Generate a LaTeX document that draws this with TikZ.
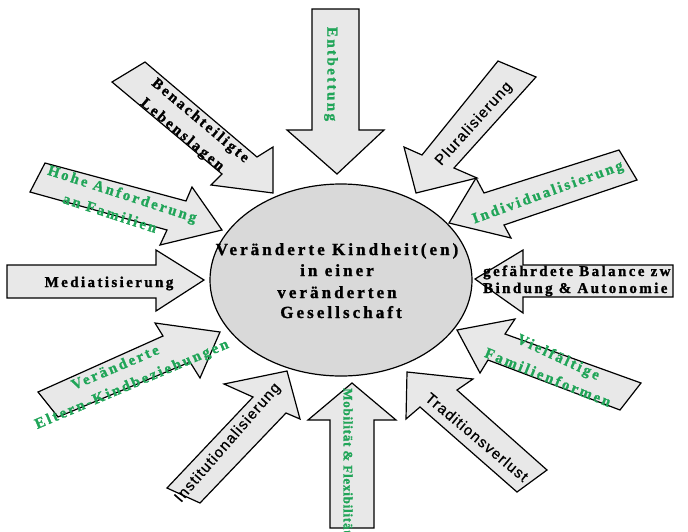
\documentclass[tikz,border=0pt]{standalone}
\usepackage{fontspec}
\setmainfont{Liberation Serif}
\newfontfamily\serifsp[LetterSpace=16,FakeBold=1.3]{Liberation Serif Bold}
\newfontfamily\serifbig[LetterSpace=18,FakeBold=1.3]{Liberation Serif Bold}
\newfontfamily\serifnarrow[LetterSpace=6,FakeBold=1.3]{Liberation Serif Bold}
\newfontfamily\sanssp[LetterSpace=8,FakeBold=0.7]{Liberation Sans}
\usetikzlibrary{shapes.geometric}
\definecolor{agray}{RGB}{232,232,232}
\definecolor{egray}{RGB}{217,217,217}
\definecolor{tgreen}{RGB}{32,165,88}
\tikzset{
  blk/.style={draw=black, line width=1.2pt, fill=agray, line join=miter},
  lab/.style={font=\serifsp\fontsize{15}{17}\selectfont, inner sep=0pt},
  glab/.style={lab, text=tgreen},
  slab/.style={font=\sanssp\fontsize{15}{17}\selectfont, inner sep=0pt},
  elab/.style={font=\serifbig\fontsize{17}{19}\selectfont, inner sep=0pt, anchor=base}
}
\begin{document}
\begin{tikzpicture}[x=1pt,y=-1pt]
\useasboundingbox (0,0) rectangle (688,531);
\clip (0,0) rectangle (688,531);
\fill[white] (0,0) rectangle (688,531);
% centre
\node[ellipse, draw, fill=egray, line width=1.2pt, minimum width=262pt, minimum height=192pt, inner sep=0pt] (core) at (341,280) {};
% arrows
\draw[blk] (312,9) -- (359,9) -- (359,130) -- (384,130) -- (337,174) -- (287,130) -- (312,130) -- cycle;
\draw[blk] (112,82) -- (145,62) -- (257,157) -- (273,147) -- (273,193) -- (211,185) -- (222,174) -- cycle;
\draw[blk] (30,192) -- (45,163) -- (186,201) -- (192,187) -- (222,230) -- (160,245) -- (167,230) -- cycle;
\draw[blk] (7,265) -- (156,265) -- (156,250) -- (204,280) -- (156,311) -- (156,298) -- (7,298) -- cycle;
\draw[blk] (38,392) -- (163,336) -- (155,323) -- (220,332) -- (200,378) -- (190,362) -- (58,417) -- cycle;
\draw[blk] (167,488) -- (253,397) -- (224,384) -- (287,371) -- (300,419) -- (286,413) -- (200,503) -- cycle;
\draw[blk] (330,528) -- (330,420) -- (308,420) -- (352,383) -- (396,420) -- (374,420) -- (374,528) -- cycle;
\draw[blk] (407,372) -- (473,379) -- (457,390) -- (547,470) -- (517,492) -- (420,407) -- (406,419) -- cycle;
\draw[blk] (457,330) -- (515,319) -- (505,334) -- (641,383) -- (620,410) -- (488,360) -- (480,373) -- cycle;
\draw[blk] (475,279) -- (523,250) -- (523,265) -- (673,265) -- (673,297) -- (523,297) -- (523,313) -- cycle;
\draw[blk] (449,223) -- (476,178) -- (484,193) -- (619,150) -- (637,180) -- (504,225) -- (511,238) -- cycle;
\draw[blk] (498,61) -- (536,77) -- (454,168) -- (477,178) -- (416,193) -- (404,147) -- (422,155) -- cycle;
% centre text
\node[elab] (c1) at (337,255) {Veränderte Kindheit(en)};
\node[elab] (c2) at (337,276) {in einer};
\node[elab] (c3) at (337,298) {veränderten};
\node[elab] (c4) at (341,318) {Gesellschaft};
% labels
\node[glab, rotate=-90] (entb) at (331,74) {Entbettung};
\node[lab, rotate=-40] (ben1) at (200,121) {Benachteiligte};
\node[lab, rotate=-40] (ben2) at (182,135) {Lebenslagen};
\node[glab, rotate=-18] (hoh1) at (122,195) {Hohe Anforderung};
\node[glab, rotate=-18] (hoh2) at (110,213) {an Familien};
\node[lab, anchor=base] (med) at (109,287) {Mediatisierung};
\node[glab, rotate=23] (elt1) at (115,367) {Veränderte};
\node[glab, rotate=23] (elt2) at (132,385) {Eltern-Kindbeziehungen};
\node[slab, rotate=49] (inst) at (228,443) {Institutionalisierung};
\node[glab, rotate=-90, anchor=west, font=\serifnarrow\fontsize{13}{15}\selectfont] (mob) at (348,388) {Mobilität \& Flexibilität};
\node[slab, rotate=-40] (trad) at (477,437) {Traditionsverlust};
\node[glab, rotate=-25] (viel1) at (558,358) {Vielfältige};
\node[glab, rotate=-22] (viel2) at (548,377) {Familienformen};
\node[lab, anchor=base west] (gef1) at (483,276) {gefährdete Balance zw};
\node[lab, anchor=base west] (gef2) at (483,293) {Bindung \& Autonomie};
\node[glab, rotate=20] (ind) at (548,193) {Individualisierung};
\node[slab, rotate=48] (plu) at (474,124) {Pluralisierung};
\end{tikzpicture}
\end{document}
